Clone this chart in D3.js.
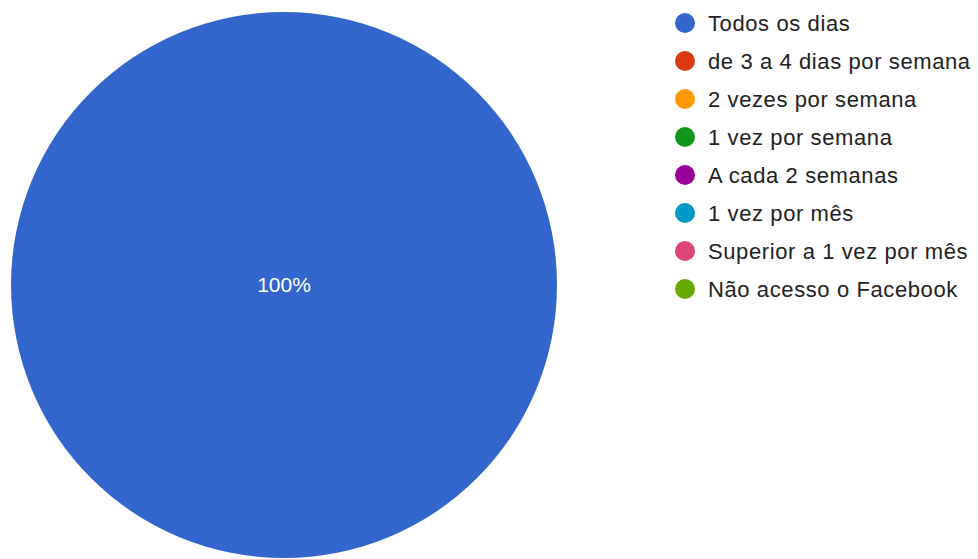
<!DOCTYPE html>
<html>
<head>
<meta charset="utf-8">
<script src="https://cdn.jsdelivr.net/npm/d3@7"></script>
<style>
  html, body { margin: 0; padding: 0; background: #ffffff; }
  svg { display: block; }
</style>
</head>
<body>
<svg id="chart" width="978" height="559"></svg>
<script>
// Frequência de acesso ao Facebook
const categories = [
  "Todos os dias",
  "de 3 a 4 dias por semana",
  "2 vezes por semana",
  "1 vez por semana",
  "A cada 2 semanas",
  "1 vez por mês",
  "Superior a 1 vez por mês",
  "Não acesso o Facebook"
];
const values = [100, 0, 0, 0, 0, 0, 0, 0];
const colors = ["#3366cc", "#dc3912", "#ff9900", "#109618", "#990099", "#0099c6", "#dd4477", "#66aa00"];

const svg = d3.select("#chart");
const cx = 284, cy = 285, radius = 273;
const fontFamily = "'Liberation Sans', Arial, sans-serif";

const color = d3.scaleOrdinal().domain(categories).range(colors);
const data = categories.map((c, i) => ({ category: c, value: values[i] }));
const total = d3.sum(values);

const pie = d3.pie().value(d => d.value).sort(null);
const arc = d3.arc().innerRadius(0).outerRadius(radius);
const arcs = pie(data).filter(d => d.value > 0);

const g = svg.append("g").attr("transform", `translate(${cx},${cy})`);

g.selectAll("path.slice")
  .data(arcs)
  .enter().append("path")
  .attr("class", "slice")
  .attr("d", arc)
  .attr("fill", d => color(d.data.category));

// Percentage labels; a slice that covers the whole pie is labelled at its centre
const labelArc = d3.arc().innerRadius(radius * 0.6).outerRadius(radius * 0.6);
g.selectAll("text.pct")
  .data(arcs)
  .enter().append("text")
  .attr("class", "pct")
  .attr("transform", d => {
    if (d.endAngle - d.startAngle >= 2 * Math.PI - 1e-6) return "translate(0,0)";
    const [x, y] = labelArc.centroid(d);
    return `translate(${x},${y})`;
  })
  .attr("dy", "0.35em")
  .attr("text-anchor", "middle")
  .attr("fill", "#ffffff")
  .style("font-family", fontFamily)
  .style("font-size", "21px")
  .text(d => d3.format(".0f")(d.value / total * 100) + "%");

// Legend
const legendX = 685, legendY = 23, rowH = 38;
const legendScale = d3.scalePoint().domain(categories).range([legendY, legendY + rowH * (categories.length - 1)]);
const legend = svg.append("g");
const rows = legend.selectAll("g.row")
  .data(categories)
  .enter().append("g")
  .attr("class", "row")
  .attr("transform", d => `translate(${legendX},${legendScale(d)})`);

rows.append("circle")
  .attr("r", 10)
  .attr("fill", d => color(d));

rows.append("text")
  .attr("x", 23)
  .attr("y", 8)
  .attr("fill", "#222222")
  .style("font-family", fontFamily)
  .style("font-size", "22px")
  .style("letter-spacing", "0.6px")
  .text(d => d);
</script>
</body>
</html>
